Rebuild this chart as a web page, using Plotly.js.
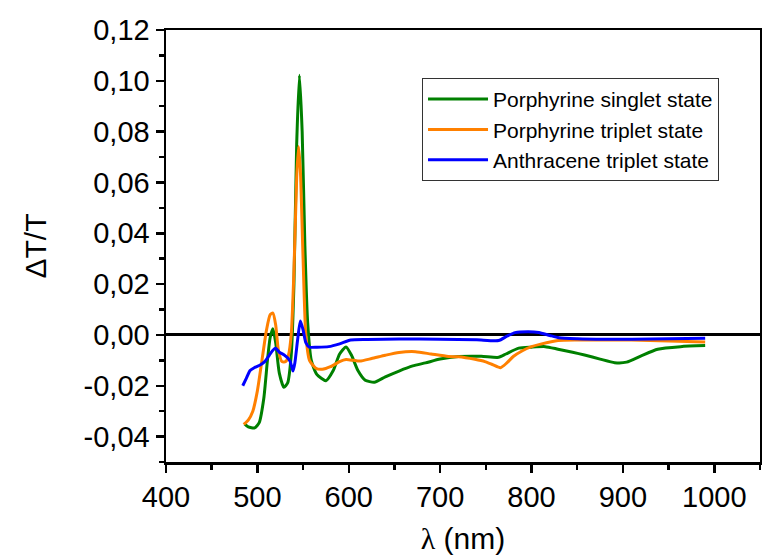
<!DOCTYPE html>
<html>
<head>
<meta charset="utf-8">
<script src="https://cdn.plot.ly/plotly-3.0.1.min.js"></script>
<style>html,body{margin:0;padding:0;background:#fff;}#chart{width:762px;height:560px;}</style>
</head>
<body>
<div id="chart"></div>
<script>
// Porphyrine singlet state
const singletX = [486,490,497,502,507,511,514,517,520,524,529,533,537,540,543,546,549,552,555,559,565,575,583,590,597,603,610,618,628,640,655,670,684,700,720,745,764,772,786,800,815,829,845,858,875,891,904,920,938,963,990];
const singletY = [-0.0350,-0.0362,-0.0366,-0.0345,-0.0250,-0.0100,-0.0010,0.0024,-0.0030,-0.0150,-0.0206,-0.0190,-0.0080,0.0200,0.0750,0.1022,0.0800,0.0350,0.0050,-0.0100,-0.0155,-0.0180,-0.0140,-0.0075,-0.0047,-0.0080,-0.0140,-0.0178,-0.0186,-0.0165,-0.0142,-0.0122,-0.0110,-0.0095,-0.0085,-0.0084,-0.0088,-0.0075,-0.0052,-0.0048,-0.0046,-0.0056,-0.0068,-0.0079,-0.0095,-0.0109,-0.0107,-0.0082,-0.0056,-0.0046,-0.0042];

// Porphyrine triplet state
const tripletX = [485,490,495,500,505,510,514,517,520,523,527,531,534,537,540,543,545,547,550,553,557,564,571,580,590,597,605,612,625,640,655,673,690,709,720,738,749,758,766,773,780,790,800,810,829,850,870,909,950,990];
const tripletY = [-0.0352,-0.0335,-0.0300,-0.0220,-0.0100,0.0020,0.0080,0.0086,0.0040,-0.0060,-0.0105,-0.0105,-0.0080,0.0000,0.0250,0.0620,0.0742,0.0650,0.0300,0.0000,-0.0100,-0.0131,-0.0135,-0.0125,-0.0105,-0.0097,-0.0100,-0.0103,-0.0093,-0.0080,-0.0069,-0.0066,-0.0075,-0.0085,-0.0086,-0.0096,-0.0105,-0.0118,-0.0129,-0.0110,-0.0085,-0.0062,-0.0046,-0.0036,-0.0022,-0.0020,-0.0020,-0.0020,-0.0024,-0.0028];

// Anthracene triplet state
const anthraceneX = [484,488,492,497,503,508,513,517,520,524,529,533,536,539,541,544,547,550,553,557,565,578,590,602,620,655,700,740,764,773,782,796,808,820,830,850,880,910,950,990];
const anthraceneY = [-0.0200,-0.0170,-0.0140,-0.0128,-0.0118,-0.0105,-0.0080,-0.0060,-0.0052,-0.0068,-0.0078,-0.0090,-0.0105,-0.0142,-0.0110,-0.0020,0.0055,0.0020,-0.0030,-0.0048,-0.0048,-0.0046,-0.0035,-0.0020,-0.0018,-0.0016,-0.0017,-0.0019,-0.0022,-0.0005,0.0009,0.0013,0.0010,-0.0002,-0.0011,-0.0015,-0.0017,-0.0017,-0.0015,-0.0013];

const seriesNames = ['Porphyrine singlet state','Porphyrine triplet state','Anthracene triplet state'];
const seriesColors = ['#008000','#ff8000','#0000ff'];

const xTicks = [400,500,600,700,800,900,1000];
const yTicks = [-0.04,-0.02,0.00,0.02,0.04,0.06,0.08,0.10,0.12];
const yTickText = ['-0,04','-0,02','0,00','0,02','0,04','0,06','0,08','0,10','0,12'];

const xs = [singletX, tripletX, anthraceneX];
const ys = [singletY, tripletY, anthraceneY];

const traces = xs.map((x, i) => ({
  x: x, y: ys[i], type: 'scatter', mode: 'lines', name: seriesNames[i],
  line: {color: seriesColors[i], width: 3, shape: 'spline', smoothing: 0.6}
}));

const font = 'Liberation Sans, Arial, sans-serif';
const layout = {
  width: 762, height: 560,
  margin: {l: 166, r: 2, t: 30, b: 98},
  paper_bgcolor: '#fff', plot_bgcolor: '#fff',
  font: {family: font, color: '#000'},
  showlegend: true,
  legend: {
    x: 0.431, y: 0.889, xanchor: 'left', yanchor: 'top',
    bgcolor: '#fff', bordercolor: '#333', borderwidth: 1,
    font: {family: font, size: 21, color: '#000'},
    itemwidth: 60, tracegroupgap: 0
  },
  xaxis: {
    range: [400, 1050], tickvals: xTicks, ticktext: xTicks.map(String),
    showgrid: false, zeroline: false,
    showline: true, linecolor: '#000', linewidth: 2.5, mirror: true,
    ticks: 'outside', ticklen: 8, tickwidth: 2.5, tickcolor: '#000',
    minor: {dtick: 50, tick0: 0, ticks: 'outside', ticklen: 5, tickwidth: 2.5, tickcolor: '#000'},
    tickfont: {family: font, size: 29, color: '#000'},
    title: {text: '<span style="font-family:\'Liberation Serif\', serif">λ</span> (nm)', font: {family: font, size: 30, color: '#000'}, standoff: 16}
  },
  yaxis: {
    range: [-0.05, 0.12], tickvals: yTicks, ticktext: yTickText,
    showgrid: false, zeroline: true, zerolinecolor: '#000', zerolinewidth: 3,
    showline: true, linecolor: '#000', linewidth: 2.5, mirror: true,
    ticks: 'outside', ticklen: 8, tickwidth: 2.5, tickcolor: '#000',
    minor: {dtick: 0.01, tick0: 0, ticks: 'outside', ticklen: 5, tickwidth: 2.5, tickcolor: '#000'},
    tickfont: {family: font, size: 29, color: '#000'},
    title: {text: 'ΔT/T', font: {family: font, size: 30, color: '#000'}, standoff: 28}
  }
};

Plotly.newPlot('chart', traces, layout, {displayModeBar: false, staticPlot: true});
</script>
</body>
</html>
